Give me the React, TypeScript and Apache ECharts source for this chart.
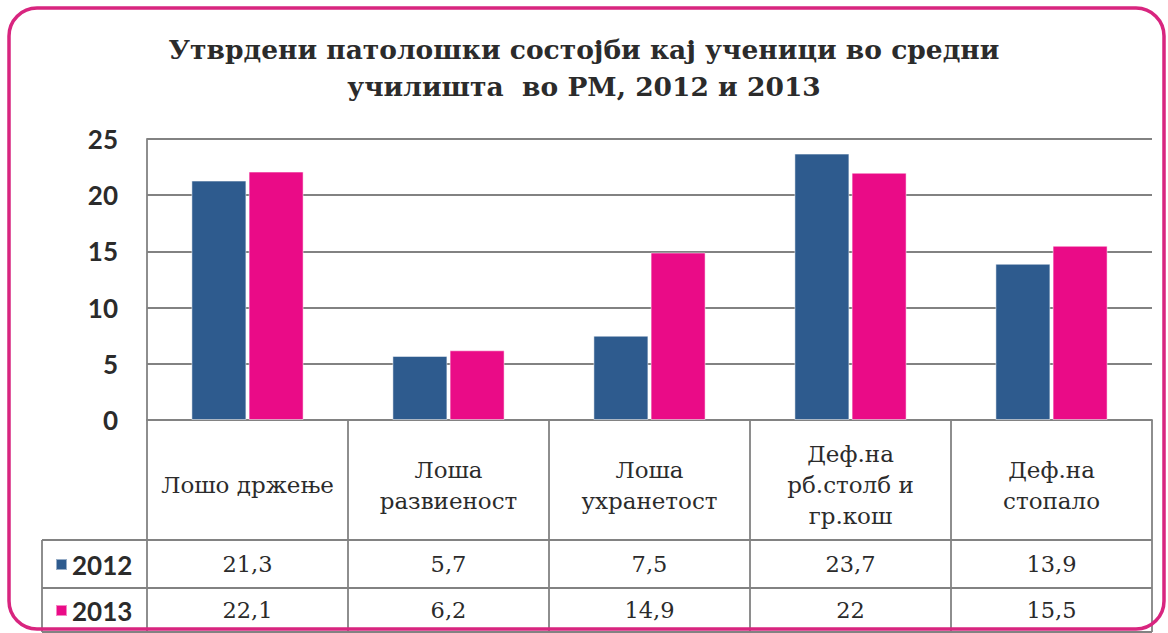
import React, { useEffect, useRef } from "react";
import * as echarts from "echarts";

const titleLines = ["Утврдени патолошки состојби кај ученици во средни", "училишта  во РМ, 2012 и 2013"];
const categories = ["Лошо држење", "Лоша\nразвиеност", "Лоша\nухранетост", "Деф.на\nрб.столб и\nгр.кош", "Деф.на\nстопало"];
const seriesNames = ["2012", "2013"];
const values2012 = [21.3, 5.7, 7.5, 23.7, 13.9];
const values2013 = [22.1, 6.2, 14.9, 22, 15.5];
const yTicks = { min: 0, max: 25, interval: 5 };

const BLUE = "#2e5b8e";
const PINK = "#ea0b87";
const GRID_GRAY = "#828282";
const TEXT = "#2b2b2b";
const SERIF = "'DejaVu Serif', serif";
const SANS = "Lato, 'Noto Sans', sans-serif";

const fmt = (v: number) => String(v).replace(".", ",");

export default function App() {
  const ref = useRef<HTMLDivElement>(null);
  useEffect(() => {
    if (!ref.current) return;
    const chart = echarts.init(ref.current, undefined, { renderer: "svg" });
    const gridLeft = 147;
    const gridRight = 1152;
    const gridTop = 139;
    const gridBottom = 420;
    const tableBottom = 632;
    const rowLine1 = 540;
    const rowLine2 = 588;
    const tableLeft = 42;

    const valueAxis = (data: number[], offset: number) => ({
      type: "category",
      position: "bottom",
      gridIndex: 0,
      data: data.map(fmt),
      offset,
      axisLine: { show: false, onZero: false },
      axisTick: { show: false },
      splitLine: { show: false },
      axisLabel: {
        interval: 0,
        margin: 0,
        verticalAlign: "middle",
        fontFamily: SERIF,
        fontSize: 22.5,
        color: TEXT,
      },
    });

    chart.setOption({
      animation: false,
      backgroundColor: "#ffffff",
      title: {
        text: titleLines.join("\n"),
        left: "center",
        top: 26,
        textStyle: {
          fontFamily: SERIF,
          fontWeight: "bold",
          fontSize: 26.5,
          lineHeight: 37,
          color: TEXT,
        },
      },
      legend: {
        orient: "vertical",
        left: 55,
        top: 551,
        padding: 0,
        itemGap: 19,
        itemWidth: 11,
        itemHeight: 11,
        icon: "rect",
        data: seriesNames,
        textStyle: {
          fontFamily: SANS,
          fontWeight: "bold",
          fontSize: 26,
          lineHeight: 27,
          color: TEXT,
        },
      },
      grid: {
        left: gridLeft,
        right: 1168 - gridRight,
        top: gridTop,
        bottom: 633 - gridBottom,
        containLabel: false,
      },
      yAxis: {
        type: "value",
        min: yTicks.min,
        max: yTicks.max,
        interval: yTicks.interval,
        axisLine: { show: true, lineStyle: { color: GRID_GRAY, width: 1.8 } },
        axisTick: { show: false },
        splitLine: { show: true, lineStyle: { color: GRID_GRAY, width: 1.8 } },
        axisLabel: {
          margin: 29,
          fontFamily: SANS,
          fontWeight: "bold",
          fontSize: 26,
          color: TEXT,
        },
      },
      xAxis: [
        {
          type: "category",
          position: "bottom",
          data: categories,
          axisLine: { show: true, onZero: false, lineStyle: { color: GRID_GRAY, width: 1.8 } },
          axisTick: {
            show: true,
            interval: 0,
            alignWithLabel: false,
            length: tableBottom - gridBottom,
            lineStyle: { color: GRID_GRAY, width: 1.8 },
          },
          axisLabel: {
            interval: 0,
            margin: 65,
            verticalAlign: "middle",
            fontFamily: SERIF,
            fontSize: 23,
            lineHeight: 31,
            color: TEXT,
          },
        },
        valueAxis(values2012, (rowLine1 + rowLine2) / 2 - gridBottom),
        valueAxis(values2013, (rowLine2 + tableBottom) / 2 - gridBottom),
      ],
      series: [
        {
          name: seriesNames[0],
          type: "bar",
          xAxisIndex: 0,
          data: values2012,
          barWidth: 55,
          barGap: "4%",
          itemStyle: { color: BLUE, borderColor: "rgba(255,255,255,0.5)", borderWidth: 1 },
        },
        {
          name: seriesNames[1],
          type: "bar",
          xAxisIndex: 0,
          data: values2013,
          barWidth: 55,
          barGap: "4%",
          itemStyle: { color: PINK, borderColor: "rgba(255,255,255,0.5)", borderWidth: 1 },
        },
      ],
      graphic: [
        {
          type: "rect",
          shape: { x: 9, y: 8, width: 1155, height: 621, r: 28 },
          style: { fill: "none", stroke: "#d8257f", lineWidth: 3.5 },
          z: 100,
        },
        {
          type: "line",
          shape: { x1: tableLeft, y1: rowLine1, x2: gridRight, y2: rowLine1 },
          style: { stroke: GRID_GRAY, lineWidth: 1.8 },
        },
        {
          type: "line",
          shape: { x1: tableLeft, y1: rowLine2, x2: gridRight, y2: rowLine2 },
          style: { stroke: GRID_GRAY, lineWidth: 1.8 },
        },
        {
          type: "line",
          shape: { x1: tableLeft, y1: rowLine1, x2: tableLeft, y2: tableBottom },
          style: { stroke: GRID_GRAY, lineWidth: 1.8 },
        },
        {
          type: "line",
          shape: { x1: tableLeft, y1: tableBottom, x2: gridRight, y2: tableBottom },
          style: { stroke: GRID_GRAY, lineWidth: 1.8 },
        },
      ],
    });
    return () => chart.dispose();
  }, []);
  return (
    <div
      ref={ref}
      style={{ position: "absolute", left: 0, top: 0, width: 1168, height: 633 }}
    />
  );
}
